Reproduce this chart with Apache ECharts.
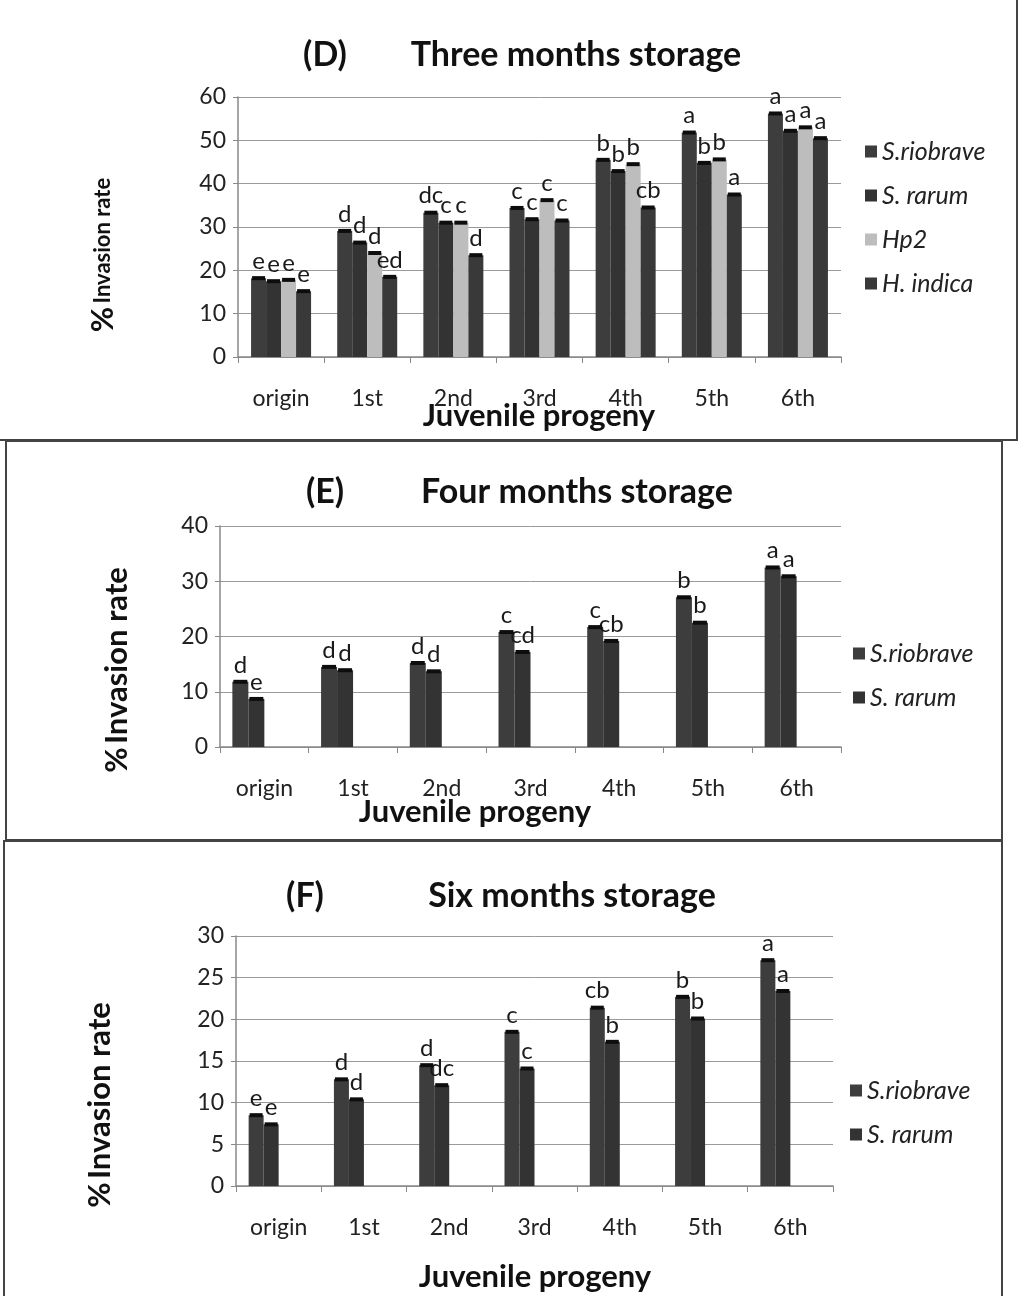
<!DOCTYPE html>
<html>
<head>
<meta charset="utf-8">
<script src="https://cdn.jsdelivr.net/npm/echarts@6/dist/echarts.min.js"></script>
<style>
  body { margin: 0; background: #fff; width: 1020px; height: 1296px; position: relative; }
  .panel { position: absolute; box-sizing: border-box; border: 2px solid #444; background: #fff; }
  #chartD { left: 0; top: 0; width: 1018px; height: 441px; border-top: none; border-left: none; }
  #chartE { left: 5px; top: 440px; width: 998px; height: 401px; }
  #chartF { left: 3px; top: 840px; width: 1000px; height: 456px; border-bottom: none; }
</style>
</head>
<body>
<div class="panel" id="chartD"></div>
<div class="panel" id="chartE"></div>
<div class="panel" id="chartF"></div>
<script>
const categories = ['origin', '1st', '2nd', '3rd', '4th', '5th', '6th'];
const seriesNames = ['S.riobrave', 'S. rarum', 'Hp2', 'H. indica'];
const barColors = ['#3d3d3d', '#333333', '#bdbdbd', '#393939'];
const font = 'Lato, "Open Sans", sans-serif';

// (D) three months storage
const dRiobrave = [18.2, 29.1, 33.3, 34.4, 45.5, 51.8, 56.2];
const dRarum = [17.5, 26.4, 31.0, 31.8, 42.9, 44.8, 52.2];
const dHp2 = [17.8, 24.0, 31.0, 36.2, 44.5, 45.6, 53.0];
const dIndica = [15.2, 18.5, 23.5, 31.5, 34.5, 37.5, 50.5];
const dLetRiobrave = ['e', 'd', 'dc', 'c', 'b', 'a', 'a'];
const dLetRarum = ['e', 'd', 'c', 'c', 'b', 'b', 'a'];
const dLetHp2 = ['e', 'd', 'c', 'c', 'b', 'b', 'a'];
const dLetIndica = ['e', 'ed', 'd', 'c', 'cb', 'a', 'a'];

// (E) four months storage
const eRiobrave = [11.8, 14.5, 15.2, 20.8, 21.7, 27.1, 32.5];
const eRarum = [8.7, 13.9, 13.7, 17.2, 19.2, 22.5, 30.9];
const eLetRiobrave = ['d', 'd', 'd', 'c', 'c', 'b', 'a'];
const eLetRarum = ['e', 'd', 'd', 'cd', 'cb', 'b', 'a'];

// (F) six months storage
const fRiobrave = [8.5, 12.8, 14.5, 18.5, 21.4, 22.7, 27.1];
const fRarum = [7.4, 10.4, 12.1, 14.1, 17.3, 20.1, 23.4];
const fLetRiobrave = ['e', 'd', 'd', 'c', 'cb', 'b', 'a'];
const fLetRarum = ['e', 'd', 'dc', 'c', 'b', 'b', 'a'];

function drawPanel(id, p) {
    let chart = echarts.init(document.getElementById(id));
    let series = [];
    // 4 bar slots per category, as in the original sheet (E and F leave two empty)
    for (let i = 0; i < 4; i++) {
        let vals = p.values[i] || [];
        let lets = p.letters[i] || [];
        series.push({
            type: 'bar',
            name: seriesNames[i],
            data: vals,
            barWidth: p.barWidth,
            barGap: '0%',
            itemStyle: { color: barColors[i] },
            label: {
                show: true,
                position: 'top',
                distance: 5,
                formatter: q => lets[q.dataIndex],
                fontFamily: font,
                fontSize: 24,
                color: '#1a1a1a'
            },
            z: 2
        });
    }
    // error bar caps
    for (let i = 0; i < 4; i++) {
        series.push({
            type: 'pictorialBar',
            name: 'cap' + i,
            data: p.values[i] || [],
            barWidth: p.barWidth,
            barGap: '0%',
            symbol: 'rect',
            symbolSize: [p.barWidth - 2, 4],
            symbolPosition: 'end',
            symbolOffset: [0, -2],
            itemStyle: { color: '#0d0d0d' },
            silent: true,
            z: 3
        });
    }
    chart.setOption({
        animation: false,
        textStyle: { fontFamily: font },
        grid: p.grid,
        legend: {
            data: seriesNames.slice(0, p.values.length),
            orient: 'vertical',
            left: p.legend[0],
            top: p.legend[1],
            itemWidth: 12,
            itemHeight: 12,
            itemGap: 19,
            icon: 'rect',
            textStyle: { fontFamily: font, fontSize: 25, fontStyle: 'italic', color: '#222' }
        },
        xAxis: {
            type: 'category',
            data: categories,
            axisLine: { lineStyle: { color: '#888', width: 1.5 } },
            axisTick: { show: true, length: 6, lineStyle: { color: '#888' } },
            axisLabel: { margin: 30, fontSize: 23, color: '#222', fontFamily: font }
        },
        yAxis: {
            type: 'value',
            min: 0,
            max: p.yMax,
            interval: p.yStep,
            axisLine: { show: true, lineStyle: { color: '#888', width: 1.5 } },
            axisTick: { show: true, length: 5, lineStyle: { color: '#888' } },
            axisLabel: { margin: 12, fontSize: 23, color: '#222', fontFamily: font },
            splitLine: { lineStyle: { color: '#9a9a9a', width: 1 } }
        },
        graphic: [
            { type: 'text', x: p.tag[0], y: p.tag[1], style: { text: p.tag[2], font: 'bold 34px ' + font, fill: '#111', align: 'center', verticalAlign: 'middle' } },
            { type: 'text', x: p.title[0], y: p.title[1], style: { text: p.title[2], font: 'bold 34px ' + font, fill: '#111', align: 'center', verticalAlign: 'middle' } },
            { type: 'text', x: p.xName[0], y: p.xName[1], style: { text: 'Juvenile progeny', font: 'bold 31px ' + font, fill: '#111', align: 'center', verticalAlign: 'middle' } },
            {
                type: 'text', x: p.yName[0], y: p.yName[1], rotation: Math.PI / 2,
                style: {
                    text: p.yName[2],
                    rich: {
                        pc: { fontFamily: font, fontWeight: 'bold', fontSize: 31, fill: '#111' },
                        t: { fontFamily: font, fontWeight: 'bold', fontSize: p.yName[3], fill: '#111' }
                    },
                    align: 'center', verticalAlign: 'middle'
                }
            }
        ],
        series: series
    });
}

drawPanel('chartD', {
    values: [dRiobrave, dRarum, dHp2, dIndica],
    letters: [dLetRiobrave, dLetRarum, dLetHp2, dLetIndica],
    grid: { left: 238, top: 97, width: 603, height: 260 },
    yMax: 60, yStep: 10, barWidth: 15,
    legend: [860, 134],
    tag: [325, 55, '(D)'],
    title: [576, 55, 'Three months storage'],
    xName: [539, 416],
    yName: [103, 255, '{pc|%} {t|Invasion rate}', 22]
});

drawPanel('chartE', {
    values: [eRiobrave, eRarum],
    letters: [eLetRiobrave, eLetRarum],
    grid: { left: 213, top: 84, width: 621, height: 221 },
    yMax: 40, yStep: 10, barWidth: 16,
    legend: [841, 194],
    tag: [318, 50, '(E)'],
    title: [570, 50, 'Four months storage'],
    xName: [468, 370],
    yName: [110, 228, '{pc|%} {t|Invasion rate}', 31]
});

drawPanel('chartF', {
    values: [fRiobrave, fRarum],
    letters: [fLetRiobrave, fLetRarum],
    grid: { left: 231, top: 94, width: 597, height: 250 },
    yMax: 30, yStep: 5, barWidth: 15,
    legend: [840, 231],
    tag: [300, 54, '(F)'],
    title: [567, 54, 'Six months storage'],
    xName: [530, 435],
    yName: [95, 263, '{pc|%} {t|Invasion rate}', 31]
});
</script>
</body>
</html>
